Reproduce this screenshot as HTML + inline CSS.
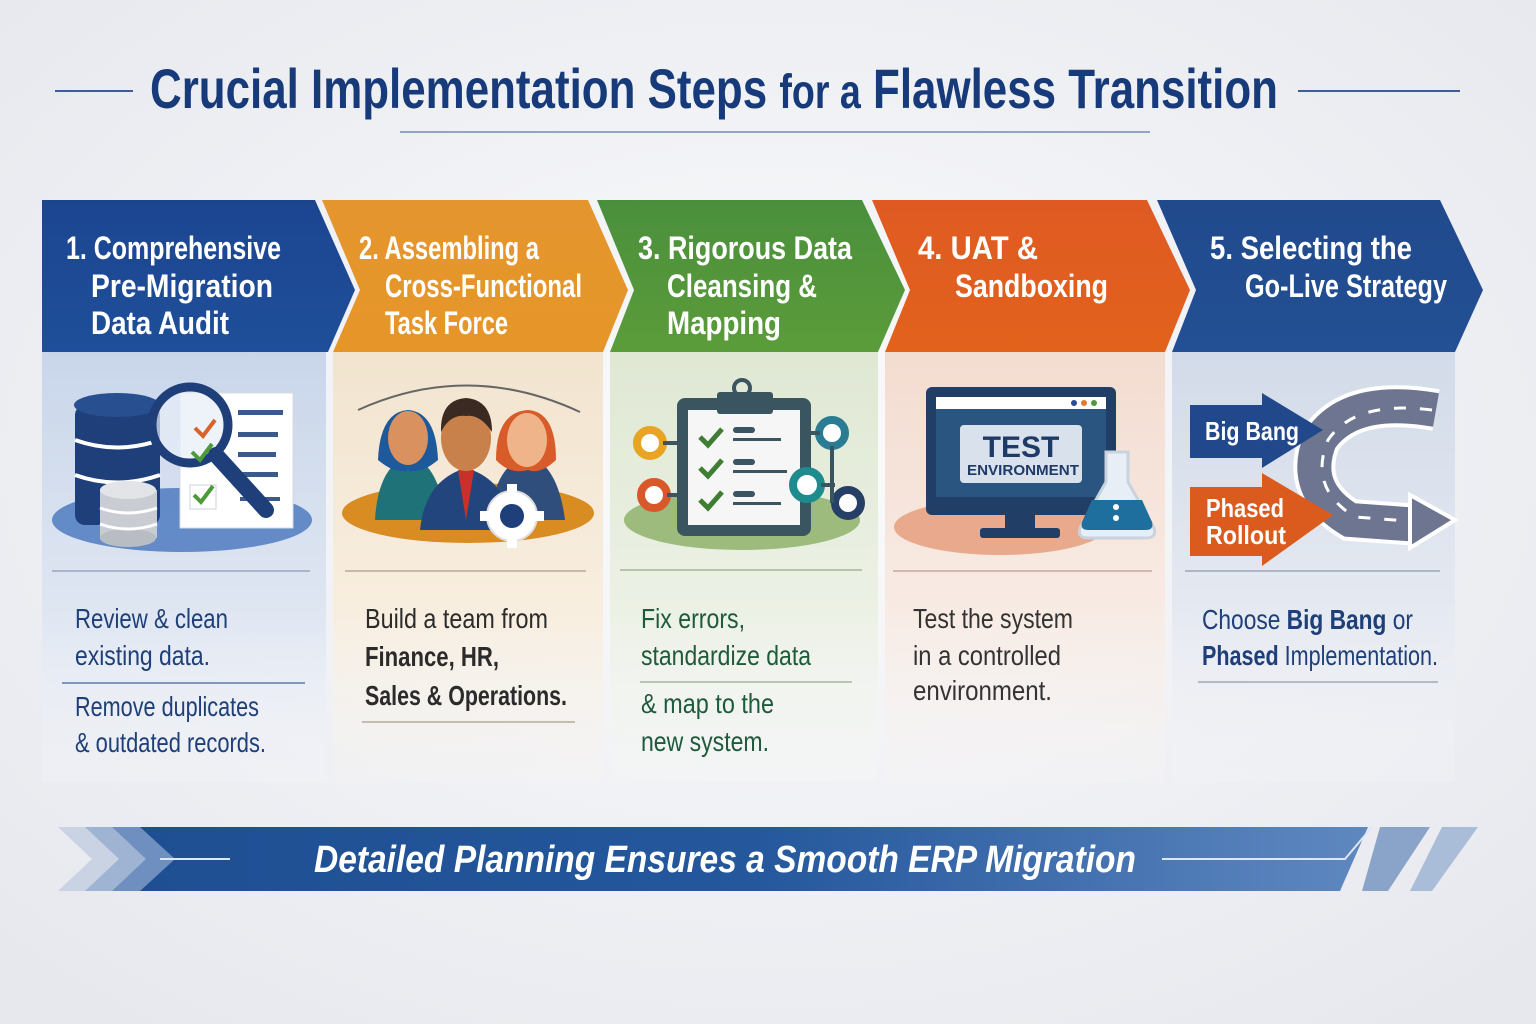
<!DOCTYPE html>
<html><head><meta charset="utf-8"><style>
html,body{margin:0;padding:0;width:1536px;height:1024px;overflow:hidden;background:#f2f3f6}
svg{display:block}
text{font-family:"Liberation Sans Narrow","Liberation Sans",sans-serif}
</style></head><body>
<svg width="1536" height="1024" viewBox="0 0 1536 1024" xmlns="http://www.w3.org/2000/svg">
<defs>
<radialGradient id="bg" cx="50%" cy="45%" r="70%"><stop offset="0" stop-color="#fbfbfc"/><stop offset="1" stop-color="#e6e8ee"/></radialGradient>
<linearGradient id="b1" x1="0" y1="0" x2="0" y2="1"><stop offset="0" stop-color="#c9d6ea"/><stop offset="0.6" stop-color="#dfe6f2"/><stop offset="1" stop-color="#f3f5f9" stop-opacity="0.3"/></linearGradient>
<linearGradient id="b2" x1="0" y1="0" x2="0" y2="1"><stop offset="0" stop-color="#f2e4cf"/><stop offset="0.6" stop-color="#f8eedf"/><stop offset="1" stop-color="#f6f4f1" stop-opacity="0.3"/></linearGradient>
<linearGradient id="b3" x1="0" y1="0" x2="0" y2="1"><stop offset="0" stop-color="#dfe8d3"/><stop offset="0.6" stop-color="#ecf1e5"/><stop offset="1" stop-color="#f5f6f3" stop-opacity="0.3"/></linearGradient>
<linearGradient id="b4" x1="0" y1="0" x2="0" y2="1"><stop offset="0" stop-color="#f3dcd0"/><stop offset="0.6" stop-color="#f8ebe4"/><stop offset="1" stop-color="#f6f4f3" stop-opacity="0.3"/></linearGradient>
<linearGradient id="b5" x1="0" y1="0" x2="0" y2="1"><stop offset="0" stop-color="#d2dbe9"/><stop offset="0.6" stop-color="#e5e9f1"/><stop offset="1" stop-color="#f3f4f7" stop-opacity="0.3"/></linearGradient>
<linearGradient id="ban" x1="0" y1="0" x2="1" y2="0"><stop offset="0" stop-color="#1f4f93"/><stop offset="0.5" stop-color="#24579c"/><stop offset="1" stop-color="#5f88c0"/></linearGradient>
<linearGradient id="h1" x1="0" y1="0" x2="0" y2="1"><stop offset="0" stop-color="#1c4590"/><stop offset="1" stop-color="#1f4f9a"/></linearGradient>
<linearGradient id="h2" x1="0" y1="0" x2="0" y2="1"><stop offset="0" stop-color="#e4952e"/><stop offset="1" stop-color="#e69628"/></linearGradient>
<linearGradient id="h3" x1="0" y1="0" x2="0" y2="1"><stop offset="0" stop-color="#4a8f3c"/><stop offset="1" stop-color="#5b9c3a"/></linearGradient>
<linearGradient id="h4" x1="0" y1="0" x2="0" y2="1"><stop offset="0" stop-color="#df5a22"/><stop offset="1" stop-color="#e2621c"/></linearGradient>
<linearGradient id="h5" x1="0" y1="0" x2="0" y2="1"><stop offset="0" stop-color="#204a8c"/><stop offset="1" stop-color="#234f94"/></linearGradient>
</defs>
<rect width="1536" height="1024" fill="url(#bg)"/>

<!-- Title -->
<line x1="55" y1="91" x2="133" y2="91" stroke="#3b5f96" stroke-width="2"/>
<line x1="1298" y1="91" x2="1460" y2="91" stroke="#3b5f96" stroke-width="2"/>
<text x="150" y="108" font-size="56" font-weight="bold" fill="#173b7a" textLength="1128" lengthAdjust="spacingAndGlyphs">Crucial Implementation Steps <tspan font-size="48">for a</tspan> Flawless Transition</text>
<line x1="400" y1="132" x2="1150" y2="132" stroke="#6d86ae" stroke-width="2" opacity="0.7"/>

<!-- Bodies -->
<rect x="42" y="352" width="284" height="430" fill="url(#b1)"/>
<rect x="333" y="352" width="270" height="430" fill="url(#b2)"/>
<rect x="610" y="352" width="268" height="430" fill="url(#b3)"/>
<rect x="885" y="352" width="280" height="430" fill="url(#b4)"/>
<rect x="1172" y="352" width="283" height="430" fill="url(#b5)"/>

<!-- Headers -->
<polygon points="42,200 315,200 355,290 328,352 42,352" fill="url(#h1)"/>
<polygon points="322,200 588,200 628,290 603,352 333,352 360,290" fill="url(#h2)"/>
<polygon points="597,200 862,200 905,290 878,352 610,352 634,290" fill="url(#h3)"/>
<polygon points="872,200 1147,200 1190,290 1165,352 885,352 910,290" fill="url(#h4)"/>
<polygon points="1157,200 1440,200 1483,290 1455,352 1172,352 1196,290" fill="url(#h5)"/>

<g fill="#fff" font-weight="bold" font-size="32">
<text x="66" y="259" textLength="215" lengthAdjust="spacingAndGlyphs">1. Comprehensive</text>
<text x="91" y="297" textLength="182" lengthAdjust="spacingAndGlyphs">Pre-Migration</text>
<text x="91" y="334" textLength="138" lengthAdjust="spacingAndGlyphs">Data Audit</text>
<text x="359" y="259" textLength="180" lengthAdjust="spacingAndGlyphs">2. Assembling a</text>
<text x="385" y="297" textLength="197" lengthAdjust="spacingAndGlyphs">Cross-Functional</text>
<text x="385" y="334" textLength="123" lengthAdjust="spacingAndGlyphs">Task Force</text>
<text x="638" y="259" textLength="214" lengthAdjust="spacingAndGlyphs">3. Rigorous Data</text>
<text x="667" y="297" textLength="150" lengthAdjust="spacingAndGlyphs">Cleansing &amp;</text>
<text x="667" y="334" textLength="114" lengthAdjust="spacingAndGlyphs">Mapping</text>
<text x="918" y="259" textLength="120" lengthAdjust="spacingAndGlyphs">4. UAT &amp;</text>
<text x="955" y="297" textLength="153" lengthAdjust="spacingAndGlyphs">Sandboxing</text>
<text x="1210" y="259" textLength="202" lengthAdjust="spacingAndGlyphs">5. Selecting the</text>
<text x="1245" y="297" textLength="202" lengthAdjust="spacingAndGlyphs">Go-Live Strategy</text>
</g>

<!-- Icon 1: database + magnifier -->
<ellipse cx="182" cy="520" rx="130" ry="32" fill="#4f7bbf" opacity="0.85"/>
<rect x="180" y="393" width="113" height="135" fill="#fff" stroke="#d5dbe6"/>
<g fill="#3a5a8c"><rect x="238" y="410" width="45" height="5"/><rect x="238" y="432" width="40" height="5"/><rect x="238" y="452" width="38" height="5"/><rect x="238" y="472" width="40" height="5"/><rect x="240" y="497" width="40" height="4"/></g>
<rect x="75" y="405" width="85" height="120" rx="10" fill="#1e3f7a"/>
<ellipse cx="117" cy="405" rx="43" ry="12" fill="#284f90"/>
<g stroke="#fff" stroke-width="4" fill="none"><path d="M75 440 Q117 455 160 440"/><path d="M75 475 Q117 490 160 475"/></g>
<rect x="100" y="490" width="57" height="48" fill="#c9ccd2"/>
<ellipse cx="128" cy="490" rx="28" ry="9" fill="#e2e4e8"/>
<ellipse cx="128" cy="538" rx="28" ry="9" fill="#b8bcc3"/>
<path d="M100 508 Q128 518 157 508 M100 524 Q128 534 157 524" stroke="#fff" stroke-width="3" fill="none"/>
<circle cx="190" cy="425" r="38" fill="#e7eef8" fill-opacity="0.7" stroke="#1e3f7a" stroke-width="9"/>
<path d="M216 455 L266 510" stroke="#1e3f7a" stroke-width="16" stroke-linecap="round"/>
<path d="M195 428 l8 8 l12-16" stroke="#d8622a" stroke-width="4" fill="none"/>
<path d="M192 452 l8 8 l12-16" stroke="#4c9a3a" stroke-width="4" fill="none"/>
<rect x="190" y="485" width="26" height="24" fill="#fff" stroke="#cbd2dd"/>
<path d="M194 495 l7 7 l12-16" stroke="#4c9a3a" stroke-width="4" fill="none"/>

<!-- Icon 2: team -->
<path d="M358 410 Q468 360 580 412" stroke="#666" stroke-width="2" fill="none"/>
<ellipse cx="468" cy="513" rx="126" ry="30" fill="#d98c22"/>
<path d="M375 520 Q378 465 410 455 Q440 465 445 520Z" fill="#1f7277"/>
<path d="M378 460 Q380 412 408 410 Q436 412 438 460 Q420 475 408 470 Q396 475 378 460Z" fill="#1e5a9b"/>
<ellipse cx="408" cy="438" rx="20" ry="27" fill="#d9925f"/>
<path d="M490 520 Q494 465 528 455 Q558 465 565 520Z" fill="#2f4e7b"/>
<path d="M496 460 Q496 412 528 410 Q556 412 556 460 Q540 475 528 470 Q510 475 496 460Z" fill="#d85b2a"/>
<ellipse cx="527" cy="440" rx="20" ry="27" fill="#f0b48a"/>
<path d="M420 530 Q425 480 466 468 Q508 480 512 530Z" fill="#23457e"/>
<path d="M458 470 L466 520 L474 470Z" fill="#c9302a"/>
<ellipse cx="466" cy="438" rx="25" ry="33" fill="#c9814c"/>
<path d="M441 432 Q440 400 466 398 Q492 400 492 432 Q480 414 466 416 Q450 414 441 432Z" fill="#3b2a22"/>
<circle cx="512" cy="516" r="25" fill="#fff" stroke="#ddd" stroke-width="2"/>
<g fill="#fff"><rect x="507" y="484" width="10" height="10"/><rect x="507" y="538" width="10" height="10"/><rect x="480" y="511" width="10" height="10"/><rect x="534" y="511" width="10" height="10"/></g>
<circle cx="512" cy="516" r="12" fill="#1e3f7a"/>

<!-- Icon 3: clipboard -->
<ellipse cx="742" cy="520" rx="118" ry="30" fill="#8aae63" opacity="0.8"/>
<rect x="677" y="398" width="134" height="138" rx="8" fill="#3a5460"/>
<rect x="688" y="410" width="112" height="115" fill="#f5f6f5"/>
<rect x="717" y="392" width="56" height="22" rx="3" fill="#3a5460"/>
<circle cx="742" cy="388" r="8" fill="none" stroke="#3a5460" stroke-width="4"/>
<g stroke="#3f7d33" stroke-width="5" fill="none"><path d="M700 437 l8 8 l14-16"/><path d="M700 468 l8 8 l14-16"/><path d="M700 500 l8 8 l14-16"/></g>
<g fill="#3a5460"><rect x="733" y="427" width="22" height="6" rx="3"/><rect x="733" y="438" width="48" height="3"/><rect x="733" y="459" width="22" height="6" rx="3"/><rect x="733" y="470" width="54" height="3"/><rect x="733" y="491" width="22" height="6" rx="3"/><rect x="733" y="502" width="48" height="3"/></g>
<circle cx="650" cy="443" r="13" fill="#fff" stroke="#e8a524" stroke-width="8"/>
<circle cx="654" cy="495" r="13" fill="#fff" stroke="#d9582a" stroke-width="8"/>
<circle cx="832" cy="433" r="13" fill="#fff" stroke="#2a7c95" stroke-width="8"/>
<circle cx="807" cy="485" r="14" fill="#fff" stroke="#1e8c8e" stroke-width="8"/>
<circle cx="848" cy="503" r="13" fill="#fff" stroke="#263f66" stroke-width="8"/>
<path d="M663 443 H688 M667 495 H688 M820 433 H811 M832 446 V503 M821 485 H835" stroke="#3a5460" stroke-width="4"/>

<!-- Icon 4: computer -->
<ellipse cx="1000" cy="527" rx="106" ry="28" fill="#e7a283" opacity="0.9"/>
<rect x="926" y="387" width="190" height="128" rx="6" fill="#213f66"/>
<rect x="936" y="397" width="170" height="100" fill="#2a5580"/>
<rect x="936" y="397" width="170" height="12" fill="#fff"/>
<circle cx="1074" cy="403" r="3" fill="#2a4a9a"/><circle cx="1084" cy="403" r="3" fill="#e07a30"/><circle cx="1094" cy="403" r="3" fill="#4c9a3a"/>
<rect x="960" y="425" width="122" height="58" rx="4" fill="#d9e2ec"/>
<text x="1021" y="457" font-size="30" font-weight="bold" fill="#1e3a66" text-anchor="middle">TEST</text>
<text x="1023" y="475" font-size="15" font-weight="bold" fill="#1e3a66" text-anchor="middle" textLength="112" lengthAdjust="spacingAndGlyphs">ENVIRONMENT</text>
<rect x="1005" y="515" width="30" height="15" fill="#213f66"/>
<rect x="980" y="528" width="80" height="10" rx="3" fill="#213f66"/>
<path d="M1106 452 h22 v30 l26 46 q3 10 -8 10 h-58 q-11 0 -8 -10 l26 -46z" fill="#e8eef5" stroke="#c9d3df" stroke-width="3"/>
<path d="M1092 500 h50 l10 22 q2 8 -6 8 h-58 q-8 0 -6 -8z" fill="#1f6f9e"/>
<circle cx="1116" cy="507" r="3" fill="#fff"/><circle cx="1116" cy="518" r="3" fill="#fff"/>

<!-- Icon 5: strategy arrows -->
<path d="M1436 410 Q1350 395 1320 440 Q1300 490 1350 520 L1420 525" stroke="#fff" stroke-width="42" fill="none"/>
<path d="M1436 410 Q1350 395 1320 440 Q1300 490 1350 520 L1420 525" stroke="#6d7590" stroke-width="34" fill="none"/>
<path d="M1432 410 Q1355 400 1328 440 Q1308 488 1355 517 L1420 522" stroke="#fff" stroke-width="3" stroke-dasharray="12 14" fill="none"/>
<polygon points="1410,495 1455,520 1410,548" fill="#6d7590" stroke="#fff" stroke-width="4"/>
<polygon points="1190,405 1262,405 1262,393 1323,430 1262,468 1262,458 1190,458" fill="#22488c"/>
<text x="1205" y="440" font-size="26" font-weight="bold" fill="#fff" textLength="94" lengthAdjust="spacingAndGlyphs">Big Bang</text>
<polygon points="1190,487 1262,487 1262,473 1333,515 1262,566 1262,556 1190,556" fill="#db5b1e"/>
<text x="1206" y="517" font-size="26" font-weight="bold" fill="#fff" textLength="78" lengthAdjust="spacingAndGlyphs">Phased</text>
<text x="1206" y="544" font-size="26" font-weight="bold" fill="#fff" textLength="80" lengthAdjust="spacingAndGlyphs">Rollout</text>

<!-- Separators -->
<g stroke-width="2" opacity="0.6">
<line x1="52" y1="571" x2="310" y2="571" stroke="#8797b5"/>
<line x1="345" y1="571" x2="586" y2="571" stroke="#a89a86"/>
<line x1="620" y1="570" x2="862" y2="570" stroke="#98a68a"/>
<line x1="893" y1="571" x2="1152" y2="571" stroke="#b89a90"/>
<line x1="1185" y1="571" x2="1440" y2="571" stroke="#8e97aa"/>
<line x1="62" y1="683" x2="305" y2="683" stroke="#3a5f9a"/>
<line x1="362" y1="722" x2="575" y2="722" stroke="#a89a86"/>
<line x1="640" y1="682" x2="852" y2="682" stroke="#98a68a"/>
<line x1="1198" y1="682" x2="1438" y2="682" stroke="#8e97aa"/>
</g>

<!-- Body text -->
<g font-size="28">
<g fill="#1e3f78">
<text x="75" y="628" textLength="153" lengthAdjust="spacingAndGlyphs">Review &amp; clean</text>
<text x="75" y="665" textLength="135" lengthAdjust="spacingAndGlyphs">existing data.</text>
<text x="75" y="716" textLength="184" lengthAdjust="spacingAndGlyphs">Remove duplicates</text>
<text x="75" y="752" textLength="191" lengthAdjust="spacingAndGlyphs">&amp; outdated records.</text>
</g>
<g fill="#2b2b2b">
<text x="365" y="628" textLength="183" lengthAdjust="spacingAndGlyphs">Build a team from</text>
<text x="365" y="666" font-weight="bold" textLength="134" lengthAdjust="spacingAndGlyphs">Finance, HR,</text>
<text x="365" y="705" font-weight="bold" textLength="202" lengthAdjust="spacingAndGlyphs">Sales &amp; Operations.</text>
</g>
<g fill="#1f5a3a">
<text x="641" y="628" textLength="104" lengthAdjust="spacingAndGlyphs">Fix errors,</text>
<text x="641" y="665" textLength="170" lengthAdjust="spacingAndGlyphs">standardize data</text>
<text x="641" y="713" textLength="133" lengthAdjust="spacingAndGlyphs">&amp; map to the</text>
<text x="641" y="751" textLength="128" lengthAdjust="spacingAndGlyphs">new system.</text>
</g>
<g fill="#333">
<text x="913" y="628" textLength="160" lengthAdjust="spacingAndGlyphs">Test the system</text>
<text x="913" y="665" textLength="148" lengthAdjust="spacingAndGlyphs">in a controlled</text>
<text x="913" y="700" textLength="139" lengthAdjust="spacingAndGlyphs">environment.</text>
</g>
<g fill="#1e3f78">
<text x="1202" y="629" textLength="211" lengthAdjust="spacingAndGlyphs">Choose <tspan font-weight="bold">Big Bang</tspan> or</text>
<text x="1202" y="665" textLength="236" lengthAdjust="spacingAndGlyphs"><tspan font-weight="bold">Phased</tspan> Implementation.</text>
</g>
</g>

<!-- Banner -->
<polygon points="58,827 88,827 122,859 88,891 58,891 92,859" fill="#c9d3e3"/>
<polygon points="85,827 116,827 150,859 116,891 85,891 119,859" fill="#9fb3d2"/>
<polygon points="112,827 143,827 177,859 143,891 112,891 146,859" fill="#6f8fc0"/>
<polygon points="140,827 1368,827 1340,891 140,891 175,859" fill="url(#ban)"/>
<polygon points="1380,827 1430,827 1388,891 1362,891" fill="#8aa3c9"/>
<polygon points="1442,827 1478,827 1432,891 1410,891" fill="#a9bcd8"/>
<path d="M160 859 H230 M1162 859 H1345 L1372 827" stroke="#dce6f4" stroke-width="2" fill="none"/>
<text x="314" y="872" font-size="38" font-weight="bold" font-style="italic" fill="#fff" textLength="822" lengthAdjust="spacingAndGlyphs">Detailed Planning Ensures a Smooth ERP Migration</text>
</svg>
</body></html>
